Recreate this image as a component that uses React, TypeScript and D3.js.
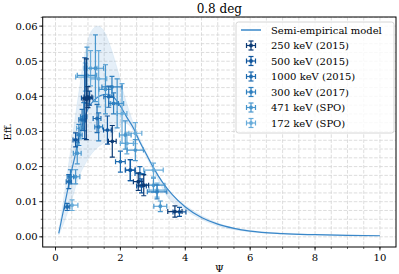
import * as d3 from 'd3'

// model curve
const psiModel = [0.1, 0.2, 0.3, 0.4, 0.5, 0.6, 0.7, 0.8, 0.9, 1.0, 1.2, 1.4, 1.6, 1.8, 2.0, 2.2, 2.4, 2.6, 2.8, 3.0, 3.3, 3.6, 4.0, 4.5, 5.0, 5.5, 6.0, 7.0, 8.0, 9.0, 10.0]
const effModel = [0.001, 0.0055, 0.01, 0.0145, 0.019, 0.023, 0.0275, 0.031, 0.034, 0.0365, 0.039, 0.0403, 0.0406, 0.0397, 0.0372, 0.034, 0.031, 0.027, 0.0235, 0.02, 0.0155, 0.012, 0.0085, 0.0055, 0.0036, 0.0024, 0.0016, 0.0009, 0.0006, 0.0004, 0.0003]

// uncertainty band
const psiBand = [0.1, 0.3, 0.5, 0.7, 0.9, 1.1, 1.3, 1.5, 1.7, 1.9, 2.1, 2.3, 2.5, 2.8, 3.0, 3.5, 4, 5, 6, 7, 8, 10]
const effUpper = [0.0015, 0.014, 0.027, 0.04, 0.052, 0.0585, 0.06, 0.0585, 0.054, 0.048, 0.041, 0.035, 0.03, 0.024, 0.0205, 0.0128, 0.009, 0.0039, 0.0018, 0.0011, 0.0007, 0.00035]
const effLower = [0.0005, 0.005, 0.0105, 0.0165, 0.0205, 0.0235, 0.0255, 0.0268, 0.0285, 0.031, 0.0325, 0.0315, 0.0285, 0.0228, 0.0192, 0.0108, 0.0075, 0.0031, 0.0014, 0.0008, 0.0005, 0.00025]

// measurements: psi, eff, psi error, eff error
const psi250 = [1.0, 1.75, 2.55, 2.72, 3.68, 0.95]
const eff250 = [0.0398, 0.0272, 0.0157, 0.0147, 0.0072, 0.0392]
const dpsi250 = [0.12, 0.12, 0.15, 0.15, 0.22, 0.1]
const deff250 = [0.003, 0.0045, 0.0025, 0.003, 0.0016, 0.0115]

const psi500 = [0.9, 1.6, 2.3, 2.65, 3.82, 0.62, 1.05]
const eff500 = [0.0395, 0.0304, 0.019, 0.0145, 0.0071, 0.0276, 0.0395]
const dpsi500 = [0.1, 0.12, 0.15, 0.15, 0.2, 0.08, 0.1]
const deff500 = [0.0115, 0.004, 0.003, 0.002, 0.0013, 0.002, 0.002]

const psi1000 = [0.82, 1.28, 2.0, 2.6, 0.41, 0.36, 1.64]
const eff1000 = [0.0333, 0.0337, 0.0214, 0.018, 0.0157, 0.0085, 0.0399]
const dpsi1000 = [0.1, 0.12, 0.15, 0.15, 0.08, 0.08, 0.15]
const deff1000 = [0.003, 0.004, 0.003, 0.002, 0.002, 0.001, 0.003]

const psi300 = [0.87, 0.72, 1.33, 2.31, 3.13, 0.46, 1.74, 1.79]
const eff300 = [0.0342, 0.029, 0.0313, 0.019, 0.0128, 0.0171, 0.0427, 0.038]
const dpsi300 = [0.1, 0.1, 0.12, 0.15, 0.3, 0.1, 0.31, 0.15]
const deff300 = [0.004, 0.003, 0.004, 0.003, 0.002, 0.002, 0.003, 0.003]

const psi471 = [0.97, 1.23, 1.54, 1.9, 2.15, 2.46, 3.02, 3.23, 0.67, 0.62]
const eff471 = [0.046, 0.048, 0.042, 0.038, 0.029, 0.0247, 0.0147, 0.0087, 0.0238, 0.0171]
const dpsi471 = [0.3, 0.25, 0.2, 0.2, 0.18, 0.25, 0.35, 0.2, 0.12, 0.13]
const deff471 = [0.008, 0.0095, 0.007, 0.007, 0.004, 0.003, 0.002, 0.0015, 0.003, 0.002]

const psi172 = [1.08, 1.33, 2.05, 2.2, 3.02, 3.13, 0.51, 2.46, 0.77, 0.92]
const eff172 = [0.048, 0.045, 0.0351, 0.0266, 0.019, 0.0133, 0.009, 0.0295, 0.0309, 0.0455]
const dpsi172 = [0.2, 0.25, 0.15, 0.2, 0.3, 0.25, 0.18, 0.2, 0.12, 0.3]
const deff172 = [0.005, 0.008, 0.0085, 0.003, 0.002, 0.002, 0.0015, 0.003, 0.003, 0.004]

const seriesLabels = ['250 keV (2015)', '500 keV (2015)', '1000 keV (2015)', '300 keV (2017)', '471 keV (SPO)', '172 keV (SPO)']
const seriesColors = ['#0b3a75', '#0f559d', '#1f6cb0', '#2f80c0', '#4896cd', '#68acda']

const xTicks = [0, 2, 4, 6, 8, 10]
const yTicks = [0.0, 0.01, 0.02, 0.03, 0.04, 0.05, 0.06]

const width = 399
const height = 274
const left = 42.7
const right = 396
const top = 17
const bottom = 247
const font = "'DejaVu Serif', 'Liberation Serif', serif"
const modelColor = '#3987c9'

export default function App() {
  const x = d3.scaleLinear([-0.395, 10.495], [left, right])
  const y = d3.scaleLinear([-0.0029, 0.0626], [bottom, top])

  const series = [
    [psi250, eff250, dpsi250, deff250],
    [psi500, eff500, dpsi500, deff500],
    [psi1000, eff1000, dpsi1000, deff1000],
    [psi300, eff300, dpsi300, deff300],
    [psi471, eff471, dpsi471, deff471],
    [psi172, eff172, dpsi172, deff172],
  ].map((s, k) => ({
    label: seriesLabels[k],
    color: seriesColors[k],
    pts: s[0].map((p, i) => ({ psi: p, eff: s[1][i], dp: s[2][i], de: s[3][i] })),
  }))

  const line = d3
    .line<number>()
    .x((d) => x(d))
    .y((_, i) => y(effModel[i]))
    .curve(d3.curveMonotoneX)
  const area = d3
    .area<number>()
    .x((d) => x(d))
    .y0((_, i) => y(effLower[i]))
    .y1((_, i) => y(effUpper[i]))
    .curve(d3.curveMonotoneX)

  const xMinor = d3.range(-0.0, 10.5, 0.5)
  const yMinor = d3.range(0, 0.0626, 0.0025)

  const cap = 2.5
  const errBar = (cx: number, cy: number, hx: number, hy: number, color: string, key: string) => (
    <g key={key} stroke={color} strokeWidth={1.2}>
      <line x1={cx - hx} x2={cx + hx} y1={cy} y2={cy} />
      <line x1={cx} x2={cx} y1={cy - hy} y2={cy + hy} />
      <line x1={cx - hx} x2={cx - hx} y1={cy - cap} y2={cy + cap} />
      <line x1={cx + hx} x2={cx + hx} y1={cy - cap} y2={cy + cap} />
      <line x1={cx - cap} x2={cx + cap} y1={cy - hy} y2={cy - hy} />
      <line x1={cx - cap} x2={cx + cap} y1={cy + hy} y2={cy + hy} />
      <circle cx={cx} cy={cy} r={1.9} fill={color} stroke="none" />
    </g>
  )

  const legX = 236
  const legY = 22
  const rowH = 15.5

  return (
    <svg
      width={width}
      height={height}
      style={{ position: 'absolute', left: 0, top: 0, background: 'white', fontFamily: font }}
    >
      <defs>
        <clipPath id="plot">
          <rect x={left} y={top} width={right - left} height={bottom - top} />
        </clipPath>
      </defs>
      {/* grid */}
      <g stroke="#d4d4d4" strokeWidth={0.8} strokeDasharray="3.5,1.6">
        {xMinor.map((v) => (
          <line key={'gx' + v} x1={x(v)} x2={x(v)} y1={top} y2={bottom} />
        ))}
        {yMinor.map((v) => (
          <line key={'gy' + v} x1={left} x2={right} y1={y(v)} y2={y(v)} />
        ))}
      </g>
      <g clipPath="url(#plot)">
        <path d={area(psiBand) || undefined} fill={modelColor} fillOpacity={0.13} stroke={modelColor} strokeOpacity={0.1} strokeWidth={0.8} />
        <path d={line(psiModel) || undefined} fill="none" stroke={modelColor} strokeWidth={1.2} />
        {series
          .slice()
          .reverse()
          .map((s) =>
            s.pts.map((p, i) =>
              errBar(x(p.psi), y(p.eff), x(p.psi + p.dp) - x(p.psi), y(p.eff) - y(p.eff + p.de), s.color, s.label + i)
            )
          )}
      </g>
      {/* frame */}
      <rect x={left} y={top} width={right - left} height={bottom - top} fill="none" stroke="black" strokeWidth={1} />
      {/* x axis */}
      {xMinor.map((v) => (
        <line key={'xm' + v} x1={x(v)} x2={x(v)} y1={bottom} y2={bottom + 2} stroke="black" strokeWidth={0.6} />
      ))}
      {xTicks.map((v) => (
        <g key={'xt' + v}>
          <line x1={x(v)} x2={x(v)} y1={bottom} y2={bottom + 3.5} stroke="black" strokeWidth={0.8} />
          <text x={x(v)} y={bottom + 14} textAnchor="middle" fontSize={10}>
            {v}
          </text>
        </g>
      ))}
      {/* y axis */}
      {yMinor.map((v) => (
        <line key={'ym' + v} x1={left - 2} x2={left} y1={y(v)} y2={y(v)} stroke="black" strokeWidth={0.6} />
      ))}
      {yTicks.map((v) => (
        <g key={'yt' + v}>
          <line x1={left - 3.5} x2={left} y1={y(v)} y2={y(v)} stroke="black" strokeWidth={0.8} />
          <text x={left - 5} y={y(v) + 3.5} textAnchor="end" fontSize={10}>
            {v.toFixed(2)}
          </text>
        </g>
      ))}
      <text x={(left + right) / 2} y={bottom + 25} textAnchor="middle" fontSize={10}>
        Ψ
      </text>
      <text transform={`translate(11,${(top + bottom) / 2}) rotate(-90)`} textAnchor="middle" fontSize={10}>
        Eff.
      </text>
      <text x={(left + right) / 2} y={top - 4} textAnchor="middle" fontSize={12}>
        0.8 deg
      </text>
      {/* legend */}
      <rect x={legX} y={legY} width={158} height={111} rx={2.5} fill="white" fillOpacity={0.8} stroke="#cccccc" strokeWidth={0.8} />
      <line x1={legX + 5} x2={legX + 25} y1={legY + 8} y2={legY + 8} stroke={modelColor} strokeWidth={1.5} />
      <text x={legX + 35} y={legY + 11.5} fontSize={10}>
        Semi-empirical model
      </text>
      {series.map((s, k) => (
        <g key={'leg' + k}>
          {errBar(legX + 15, legY + 8 + rowH * (k + 1), 4.5, 4.5, s.color, 'l' + k)}
          <text x={legX + 35} y={legY + 11.5 + rowH * (k + 1)} fontSize={10}>
            {s.label}
          </text>
        </g>
      ))}
    </svg>
  )
}
